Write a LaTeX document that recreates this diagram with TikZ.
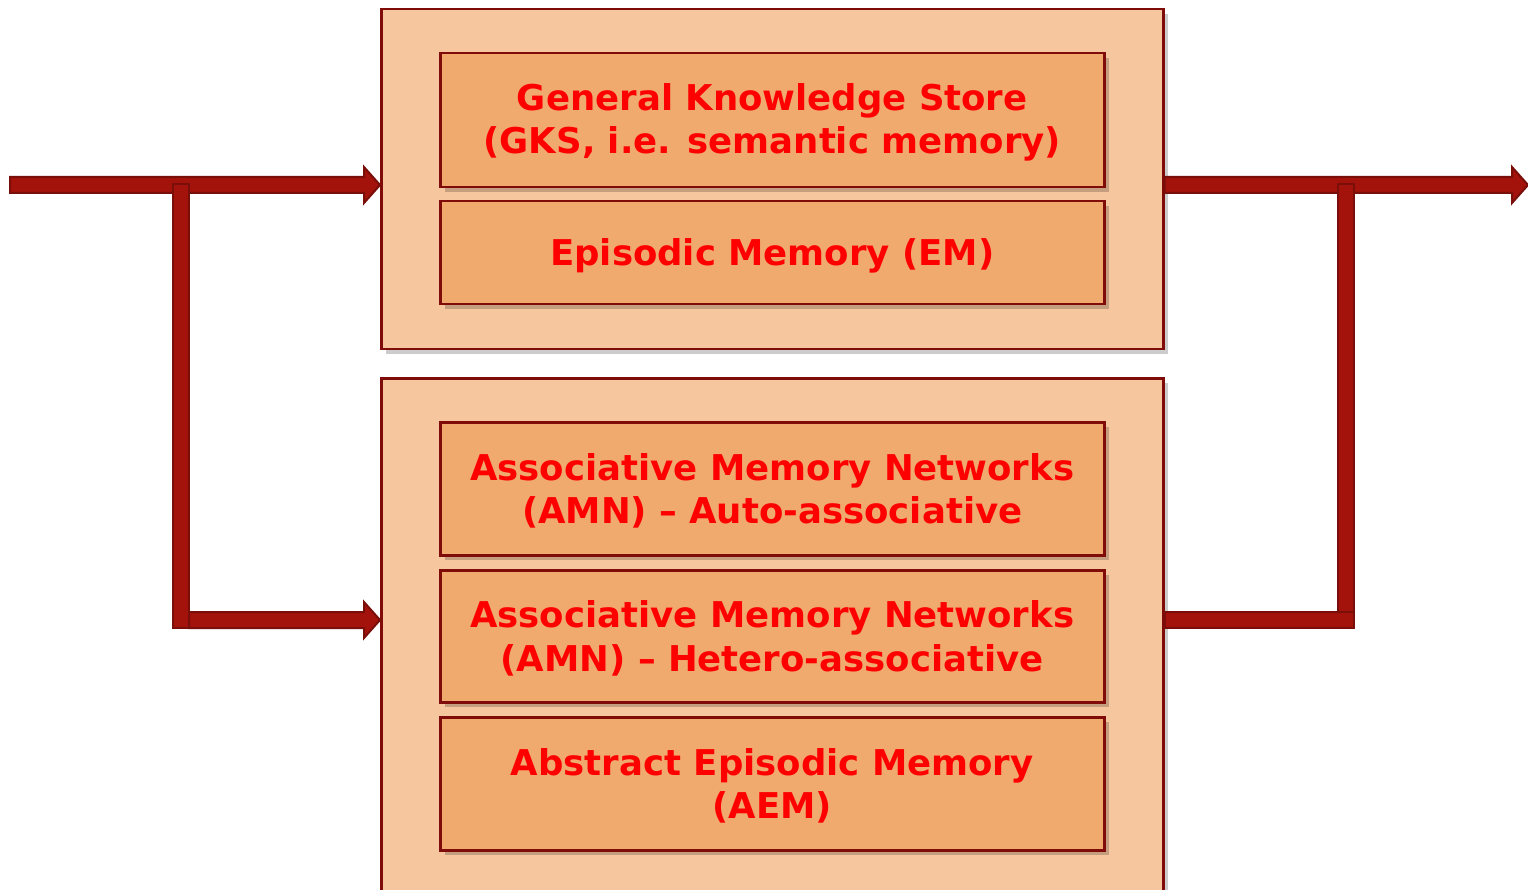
\documentclass[tikz,border=0pt]{standalone}
\usepackage{fontspec}
\setmainfont{DejaVu Sans}
\usetikzlibrary{calc,shadows}
\definecolor{panelfill}{HTML}{F6C69E}
\definecolor{cardfill}{HTML}{F0AA6E}
\definecolor{edge}{HTML}{7F0C08}
\definecolor{pipe}{HTML}{A3120B}
\definecolor{pipeedge}{HTML}{7A0E09}
\definecolor{labelred}{HTML}{FF0000}
\tikzset{
  panel/.style={draw=edge, line width=2.5pt, fill=panelfill, minimum width=782pt,
    anchor=north west, inner sep=0pt,
    drop shadow={shadow xshift=5pt, shadow yshift=-5pt, fill=black, opacity=0.2}},
  card/.style={draw=edge, line width=2.5pt, fill=cardfill, minimum width=664pt,
    anchor=north west, inner sep=0pt,
    drop shadow={shadow xshift=5pt, shadow yshift=-5pt, fill=black, opacity=0.2}},
  cardtext/.style={align=center, text=labelred, inner sep=0pt,
    font=\bfseries\fontsize{35.5}{43.5}\selectfont},
  pipebody/.style={fill=pipe, draw=pipeedge, line width=2pt, line join=miter}
}
% horizontal block arrow from #1 to the tip #2
\newcommand\blockarrow[2]{%
  \draw[pipebody] ($(#1)+(0,-8)$) -- ($(#2)+(-16,-8)$) -- ($(#2)+(-16,-18)$) -- (#2)
    -- ($(#2)+(-16,18)$) -- ($(#2)+(-16,8)$) -- ($(#1)+(0,8)$) -- cycle;}
% plain bar between #1 and #2 (corner points)
\newcommand\pipebar[2]{\draw[pipebody] (#1) rectangle (#2);}
\begin{document}
\begin{tikzpicture}[x=1pt, y=-1pt]
\clip (0,0) rectangle (1528,890);
\fill[white] (0,0) rectangle (1528,890);

% memory panels
\node[panel, minimum height=340pt] (upper) at (380,8) {};
\node[panel, minimum height=560pt] (lower) at (380,377) {};

% memory stores
\node[card, minimum height=134pt] (gks) at (439,52) {};
\node[card, minimum height=103pt] (em) at (439,200) {};
\node[card, minimum height=133pt] (amna) at (439,421) {};
\node[card, minimum height=132pt] (amnh) at (439,569) {};
\node[card, minimum height=133pt] (aem) at (439,716) {};

\node[cardtext] (gksText) at ($(gks.center)+(0,2)$)
  {General Knowledge Store\\(GKS, i.e. semantic memory)};
\node[cardtext] (emText) at ($(em.center)+(0,3)$)
  {Episodic Memory (EM)};
\node[cardtext] (amnaText) at ($(amna.center)+(0,2)$)
  {Associative Memory Networks\\(AMN) – Auto-associative};
\node[cardtext] (amnhText) at ($(amnh.center)+(0,2)$)
  {Associative Memory Networks\\(AMN) – Hetero-associative};
\node[cardtext] (aemText) at ($(aem.center)+(0,2)$)
  {Abstract Episodic Memory\\(AEM)};

% junction points of the input and output pipes
\coordinate (inStart) at (10,185);
\coordinate (inTip) at (upper.west |- inStart);
\coordinate (inSplitTop) at (173,184);
\coordinate (inSplitBot) at (189,628);
\coordinate (inLowStart) at (189,620);
\coordinate (inLowTip) at (lower.west |- inLowStart);
\coordinate (outStart) at (upper.east |- inStart);
\coordinate (outTip) at (1528,185);
\coordinate (outJoinTop) at (1338,184);
\coordinate (outJoinBot) at (1354,628);
\coordinate (outLowStart) at (lower.east |- inLowStart);

% input side
\blockarrow{inStart}{inTip}
\pipebar{inSplitTop}{inSplitBot}
\blockarrow{inLowStart}{inLowTip}

% output side
\blockarrow{outStart}{outTip}
\pipebar{outJoinTop}{outJoinBot}
\draw[pipebody] ($(outLowStart)+(0,-8)$) rectangle (outJoinBot);
\end{tikzpicture}
\end{document}
